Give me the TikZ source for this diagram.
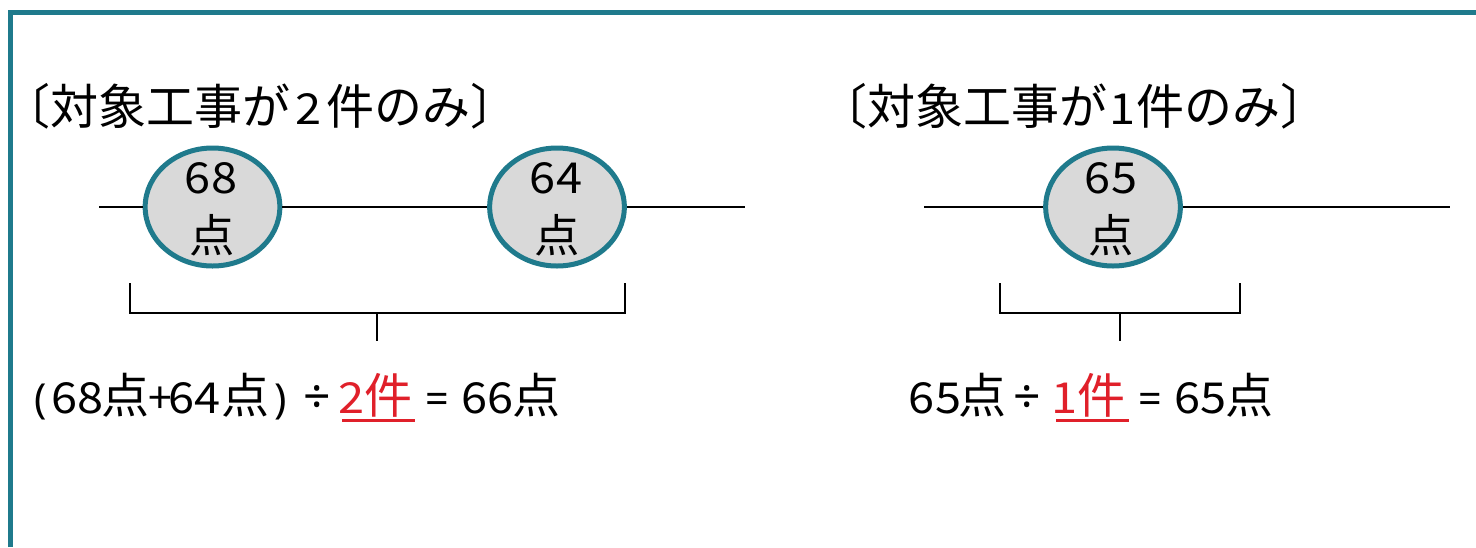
\documentclass[tikz,border=0pt]{standalone}
\usepackage{fontspec}
\newfontfamily\jp{Noto Sans CJK JP}
\newfontfamily\dgfam[FakeStretch=1.1]{Noto Sans CJK JP}
\newfontfamily\symfam{Noto Sans}
\newcommand{\dg}{\dgfam\fontsize{32}{38}\selectfont}
\definecolor{frameteal}{HTML}{1F7A8C}
\definecolor{fillgray}{HTML}{D9D9D9}
\definecolor{eqred}{HTML}{E0202A}
\usetikzlibrary{shapes.geometric}
\tikzset{
  kj/.style={inner sep=0pt, anchor=base, font=\jp\fontsize{36}{42}\selectfont},
  ttl/.style={inner sep=0pt, anchor=base west, font=\jp\fontsize{36}{42}\selectfont},
  num/.style={inner sep=0pt, anchor=base, font=\dg},
  sym/.style={inner sep=0pt, anchor=base, font=\symfam\fontsize{31}{38}\selectfont},
  plussym/.style={inner sep=0pt, anchor=base, font=\jp\fontsize{32}{38}\selectfont},
  bigsym/.style={inner sep=0pt, anchor=base, font=\symfam\fontsize{36}{42}\selectfont},
  intxt/.style={inner sep=0pt, anchor=base, font=\jp\fontsize{34}{40}\selectfont},
  score/.style={ellipse, draw=frameteal, fill=fillgray, line width=3.75pt,
    minimum width=101pt, minimum height=88.5pt, inner sep=0pt},
  thinline/.style={line width=1.5pt, black},
  redline/.style={line width=2.25pt, eqred}
}
\begin{document}
\begin{tikzpicture}[x=0.75pt, y=-0.75pt]
\useasboundingbox (0,0) rectangle (1476,547);
\fill[white] (0,0) rectangle (1476,547);
\draw[frameteal, line width=3.75pt] (10,547) -- (10,12.5) -- (1476,12.5);

% ---------- left group ----------
\node[ttl] (t1) at (2.5,124) {〔対象工事が\hspace{3.5pt}{\dg 2}\hspace{3.5pt}件のみ〕};
\coordinate (l1s) at (99,207);
\coordinate (l1e) at (745,207);
\node[score] (e68) at (212.5,207) {};
\node[score] (e64) at (557,207) {};
\node[num] (e68n) at (211,193) {68};
\node[intxt] (e68u) at (212,252) {点};
\node[num] (e64n) at (556,193) {64};
\node[intxt] (e64u) at (557,252) {点};
\draw[thinline] (l1s) -- (e68.west);
\draw[thinline] (e68.east) -- (e64.west);
\draw[thinline] (e64.east) -- (l1e);
\coordinate (b1a) at (130,283);
\coordinate (b1b) at (130,312.5);
\coordinate (b1c) at (625,312.5);
\coordinate (b1d) at (625,283);
\coordinate (b1m) at (377,312.5);
\coordinate (b1t) at (377,341);
\draw[thinline] (b1a) -- (b1b) -- (b1c) -- (b1d);
\draw[thinline] (b1m) -- (b1t);

\node[sym] (q1p) at (40.5,413) {(};
\node[num] (q1n1) at (77.5,413) {68};
\node[kj] (q1k1) at (125.5,413) {点};
\node[plussym] (q1plus) at (160,413) {+};
\node[num] (q1n2) at (194.5,413) {64};
\node[kj] (q1k2) at (245.5,413) {点};
\node[sym] (q1q) at (281,413) {)};
\node[bigsym] (q1div) at (317.5,413) {÷};
\node[num, text=eqred] (q1rn) at (351.5,413) {2};
\node[kj, text=eqred] (q1rk) at (388,413) {件};
\node[sym] (q1eq) at (437,413) {=};
\node[num] (q1n3) at (487.5,413) {66};
\node[kj] (q1k3) at (536,413) {点};
\coordinate (u1a) at (342,420);
\coordinate (u1b) at (415,420);
\draw[redline] (u1a) -- (u1b);

% ---------- right group ----------
\node[ttl] (t2) at (819.5,124) {〔対象工事が\hspace{1pt}{\dg 1}\hspace{1pt}件のみ〕};
\coordinate (l2s) at (924,207);
\coordinate (l2e) at (1450,207);
\node[score] (e65) at (1113,207) {};
\node[num] (e65n) at (1111,193) {65};
\node[intxt] (e65u) at (1111,252) {点};
\draw[thinline] (l2s) -- (e65.west);
\draw[thinline] (e65.east) -- (l2e);
\coordinate (b2a) at (999.5,283);
\coordinate (b2b) at (999.5,312.5);
\coordinate (b2c) at (1239.5,312.5);
\coordinate (b2d) at (1239.5,283);
\coordinate (b2m) at (1119.5,312.5);
\coordinate (b2t) at (1119.5,341);
\draw[thinline] (b2a) -- (b2b) -- (b2c) -- (b2d);
\draw[thinline] (b2m) -- (b2t);

\node[num] (q2n1) at (935,413) {65};
\node[kj] (q2k1) at (982,413) {点};
\node[bigsym] (q2div) at (1027.5,413) {÷};
\node[num, text=eqred] (q2rn) at (1065,413) {1};
\node[kj, text=eqred] (q2rk) at (1101.5,413) {件};
\node[sym] (q2eq) at (1150,413) {=};
\node[num] (q2n2) at (1200.5,413) {65};
\node[kj] (q2k2) at (1249,413) {点};
\coordinate (u2a) at (1056,420);
\coordinate (u2b) at (1129,420);
\draw[redline] (u2a) -- (u2b);
\end{tikzpicture}
\end{document}
